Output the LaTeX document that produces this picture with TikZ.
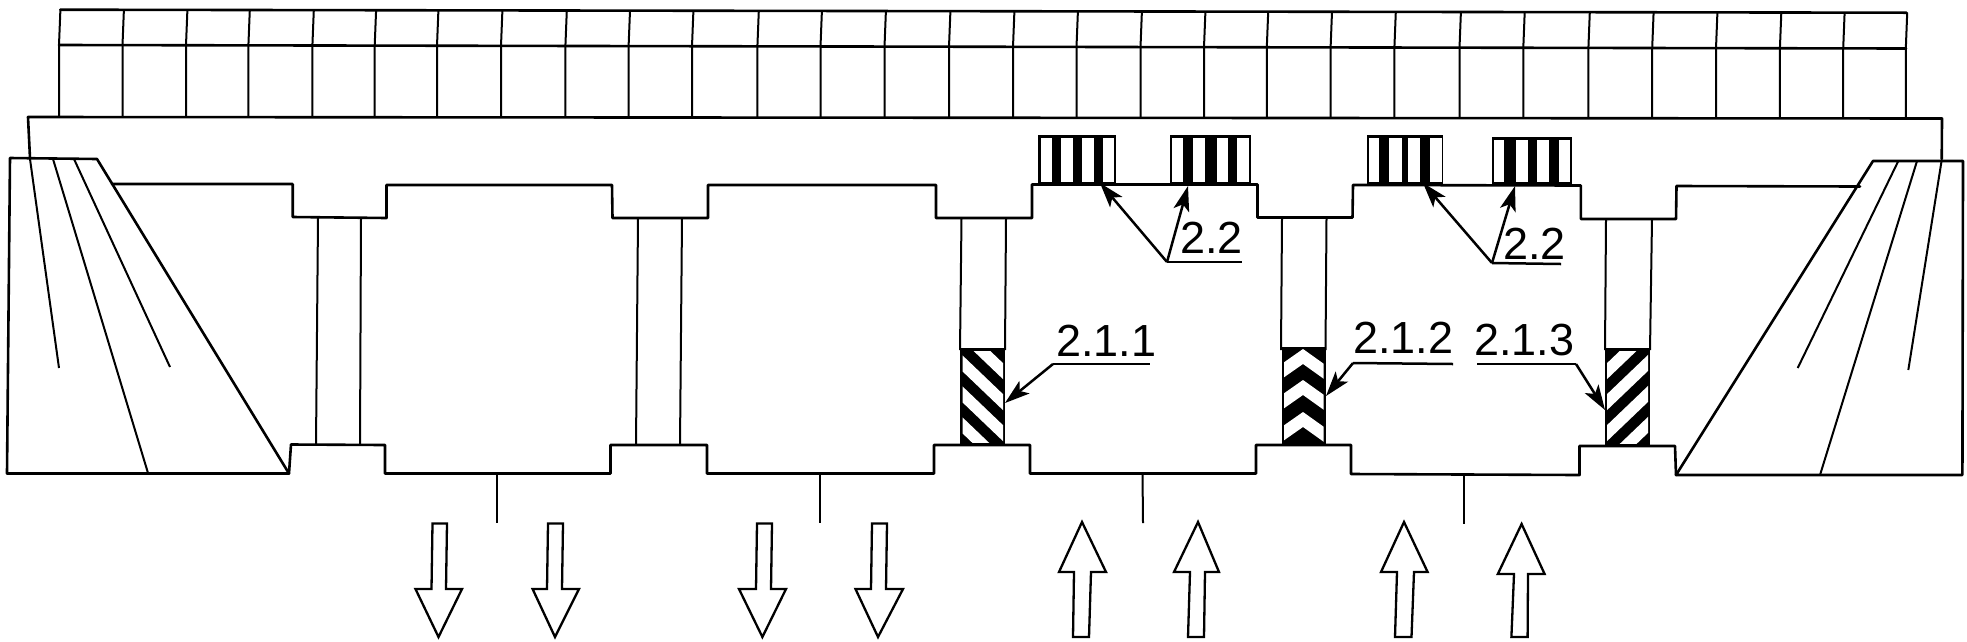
\documentclass[tikz,border=0pt]{standalone}
\usepackage{fontspec}
\setmainfont{Liberation Sans}
\usetikzlibrary{arrows.meta}
\tikzset{
  ln/.style={line width=2.6pt,line join=round,line cap=round,black},
  thin ln/.style={line width=2pt,line join=round,black},
  leader/.style={line width=2.5pt,black,-{Stealth[length=25pt,width=16pt,inset=6pt]}},
  under/.style={line width=2.5pt,black},
  lab/.style={font=\fontsize{45}{45}\selectfont,inner sep=0pt,anchor=base west,text=black},
  bigarrow/.style={line width=2.3pt,black,fill=white,line join=miter},
}
\newcommand{\bearing}[8]{%
  \fill[black] (#1,#3) rectangle (#2,#4);
  \foreach \a/\b in {#5,#6,#7,#8} \fill[white] (\a,#3+3) rectangle (\b,#4-2.5);
}
\begin{document}
\begin{tikzpicture}[x=1pt,y=-1pt]
\useasboundingbox (0,0) rectangle (1967,641);
% parapet cells
\draw[ln] (60.3,9.7) -- (1906.5,12.7);
\draw[ln] (59,45) -- (1906,48.5);
\foreach \xx [count=\i from 0] in {59,122.5,186,248.4,312.4,374.7,437,501,565.4,628.6,692,757.4,820.5,884.5,949,1013,1076.5,1140.5,1204,1266.8,1330.6,1394.4,1459.5,1523.3,1588.4,1652.2,1716,1779.9,1843.2,1905.8} {
  \pgfmathsetmacro\yt{9.7+0.103*\i}
  \pgfmathsetmacro\ym{45+0.12*\i}
  \pgfmathsetmacro\yb{117+0.052*\i}
  \draw[thin ln] (\xx+1.4,\yt) -- (\xx,\ym) -- (\xx,\yb);
}
% deck
\draw[ln] (30,158) -- (28,117) -- (1942,118.5) -- (1941.7,159);
% left abutment
\draw[ln] (10,158) -- (7,473.5) -- (289,473.5) -- (97,159) -- cycle;
\draw[thin ln] (30,159) -- (59,368);
\draw[thin ln] (53,159) -- (148,473);
\draw[thin ln] (74,159) -- (170,367);
% right abutment
\draw[ln] (1873,161) -- (1963,161) -- (1962.4,475) -- (1676,475) -- cycle;
\draw[thin ln] (1898.3,161) -- (1797.7,368);
\draw[thin ln] (1917,161) -- (1820,475);
\draw[thin ln] (1941.7,160) -- (1908.3,370);
% cap top profile
\draw[ln] (112,184) -- (292.7,184) -- (292.7,217) -- (386.5,218) -- (386.5,185) -- (612,185) -- (612.5,218) -- (708,218) -- (708,185) -- (936,185) -- (936,218) -- (1032,218) -- (1032,184.5) -- (1257.5,184.5) -- (1257.5,217.5) -- (1352.5,217.5) -- (1353,185) -- (1580.8,185.5) -- (1580.8,219) -- (1676,219) -- (1676.5,186) -- (1860,186.5);
% cap bottom profile
\draw[ln] (289,473.5) -- (291,444.5) -- (385,445) -- (385,473.5) -- (610.5,473.5) -- (610.5,445) -- (707,445) -- (707,473.5) -- (934,473.5) -- (934,445) -- (1030,445) -- (1030,473.5) -- (1256,473.5) -- (1256,445) -- (1351,445) -- (1351,474) -- (1579.5,475) -- (1579.5,446) -- (1675,446) -- (1676,475);
% plain piers
\draw[thin ln] (318,218) -- (316,445);
\draw[thin ln] (361,218.5) -- (360,445);
\draw[thin ln] (638,218) -- (636,445);
\draw[thin ln] (682,218) -- (680,445);
\draw[thin ln] (961.5,218) -- (960,350);
\draw[thin ln] (1006,218) -- (1005,350);
\draw[thin ln] (1282,218) -- (1281,350);
\draw[thin ln] (1326.5,218) -- (1325.5,350);
\draw[thin ln] (1606,219) -- (1605,350);
\draw[thin ln] (1652,219) -- (1650,350);
% hatched pier 1 (falling stripes)
\fill[black] (960,348) rectangle (1005,445);
\begin{scope}
  \clip (962.5,351) rectangle (1003,442);
  \foreach \y in {322,353,384,415}
    \fill[white] (960,\y) -- (1006,\y+44) -- (1006,\y+60) -- (960,\y+16) -- cycle;
\end{scope}
% hatched pier 2 (chevrons)
\fill[black] (1281.5,347) rectangle (1325.5,445);
\begin{scope}
  \clip (1284,347) rectangle (1323.5,443);
  \foreach \y in {349,380,412}
    \fill[white] (1283,\y+14) -- (1303,\y) -- (1324,\y+15) -- (1324,\y+30) -- (1303,\y+15) -- (1283,\y+29) -- cycle;
\end{scope}
% hatched pier 3 (rising stripes)
\fill[black] (1605,348) rectangle (1650,446);
\begin{scope}
  \clip (1607,351) rectangle (1648,443);
  \foreach \y in {322,353,384,415}
    \fill[white] (1650,\y) -- (1604,\y+44) -- (1604,\y+60) -- (1650,\y+16) -- cycle;
\end{scope}
% bearings
\bearing{1038.3}{1115.7}{135}{184}{1041/1052}{1061/1073}{1082/1094}{1103/1114}
\bearing{1170}{1251}{135}{184}{1172/1183}{1193/1205}{1217/1228}{1237/1249}
\bearing{1367}{1443}{135}{184}{1369/1379}{1389/1402}{1408/1420}{1430/1442}
\bearing{1492}{1572}{137}{184}{1494/1504}{1516/1528}{1537/1549}{1559/1570}
% central stems
\draw[thin ln] (497,473.5) -- (497,523);
\draw[thin ln] (820,473.5) -- (820,523);
\draw[thin ln] (1142.5,473.5) -- (1143,523);
\draw[thin ln] (1464,475) -- (1464,524);
% down arrows
\foreach \sl/\sr/\hl/\hr/\t in {432.5/447/415.5/462/438.5, 548/563/532.6/579/555, 757/772/739/786/762.4, 872/887/855.5/903/878}
  \draw[bigarrow] (\sl,523.5) -- (\sr,523.5) -- (\sr-1,589) -- (\hr,589) -- (\t,637) -- (\hl,589) -- (\sl-1,589) -- cycle;
% up arrows
\foreach \tl/\tr/\bl/\br/\hl/\hr/\t/\o in {1074/1091/1073/1089/1059/1106/1082/0, 1190/1205/1188/1204/1174/1219/1198/0, 1397/1414/1395/1411.5/1381/1427.6/1404/0, 1514/1528/1511.4/1527.6/1497.8/1544.6/1521.6/2}
  \draw[bigarrow] (\t,522+\o) -- (\hr,572+\o) -- (\tr,572+\o) -- (\br,637) -- (\bl,637) -- (\tl,572+\o) -- (\hl,572+\o) -- cycle;
% labels
\node[lab] (l22a) at (1180,253) {2.2};
\node[lab] (l22b) at (1503,259) {2.2};
\node[lab] (l211) at (1056,356) {2.1.1};
\node[lab] (l212) at (1353,353) {2.1.2};
\node[lab] (l213) at (1474,355) {2.1.3};
% leader coordinates
\coordinate (a1) at (1167,262); \coordinate (a1e) at (1242,262);
\coordinate (a2) at (1492,263); \coordinate (a2e) at (1561,264);
\coordinate (b1) at (1053,364); \coordinate (b1e) at (1150,364);
\coordinate (b2) at (1353,363); \coordinate (b2e) at (1453,364);
\coordinate (b3) at (1576,364); \coordinate (b3e) at (1477,364);
\coordinate (t1) at (1100,183); \coordinate (t2) at (1188,186);
\coordinate (t3) at (1423,183); \coordinate (t4) at (1515,186);
\coordinate (t5) at (1005,403); \coordinate (t6) at (1326,396); \coordinate (t7) at (1605,410);
\draw[under] (a1) -- (a1e);
\draw[under] (a2) -- (a2e);
\draw[under] (b1) -- (b1e);
\draw[under] (b2) -- (b2e);
\draw[under] (b3) -- (b3e);
\draw[leader] (a1) -- (t1);
\draw[leader] (a1) -- (t2);
\draw[leader] (a2) -- (t3);
\draw[leader] (a2) -- (t4);
\draw[leader] (b1) -- (t5);
\draw[leader] (b2) -- (t6);
\draw[leader] (b3) -- (t7);
\end{tikzpicture}
\end{document}
